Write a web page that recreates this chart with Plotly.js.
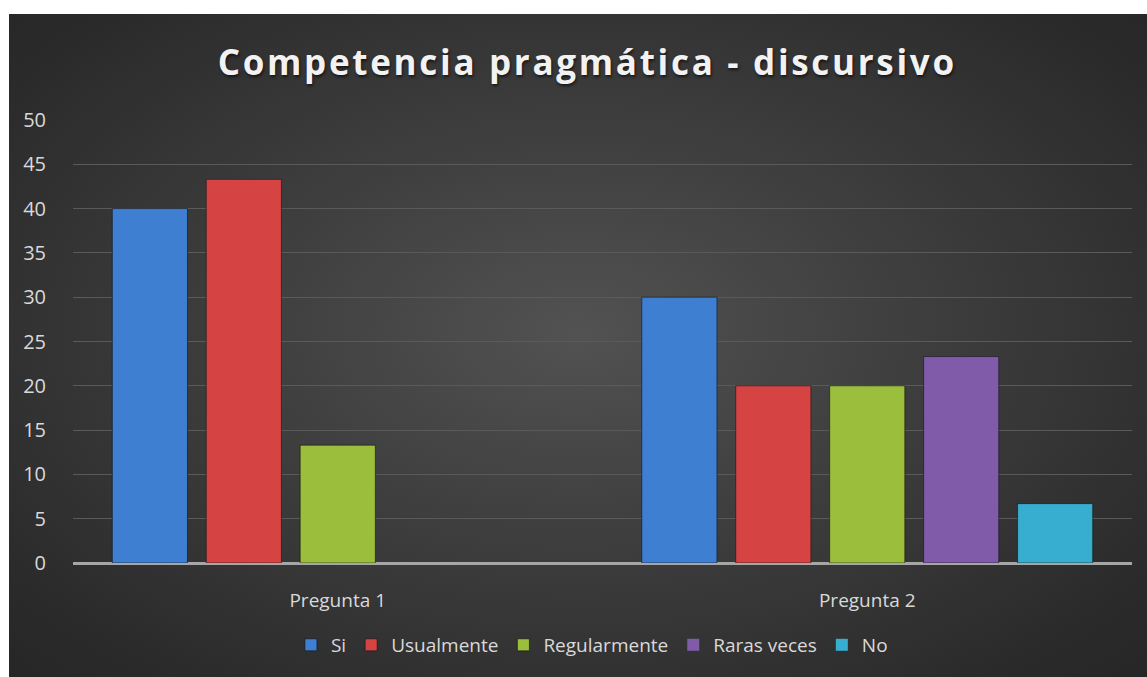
<!DOCTYPE html>
<html>
<head>
<meta charset="utf-8">
<script src="https://cdn.plot.ly/plotly-3.0.1.min.js"></script>
<style>
  html, body { margin: 0; padding: 0; background: #ffffff; }
  #wrap { position: absolute; left: 0; top: 0; width: 1147px; height: 677px; background: #ffffff; }
  #bg { position: absolute; left: 9px; top: 14px; width: 1138px; height: 663px;
        background: radial-gradient(ellipse at 50% 48%, #525252 0%, #3f3f3f 40%, #2b2b2b 85%, #262626 100%); }
  #chart { position: absolute; left: 0; top: 0; width: 1147px; height: 677px; }
  .gtitle { letter-spacing: 2.7px; text-shadow: 1px 2px 3px rgba(0,0,0,0.6); }
</style>
</head>
<body>
<div id="wrap"><div id="bg"></div><div id="chart"></div></div>
<script>
const categories = ["Pregunta 1", "Pregunta 2"];
const seriesNames = ["Si", "Usualmente", "Regularmente", "Raras veces", "No"];
const si = [40, 30];
const usualmente = [43.3, 20];
const regularmente = [13.3, 20];
const rarasVeces = [0, 23.3];
const no = [0, 6.7];
const yTicks = [0, 5, 10, 15, 20, 25, 30, 35, 40, 45, 50];

const seriesValues = [si, usualmente, regularmente, rarasVeces, no];
const colors = ["#3f7fd2", "#d64343", "#9bbf3d", "#7f5ba9", "#37aed0"];

const traces = seriesValues.map((vals, i) => ({
  type: "bar",
  name: seriesNames[i],
  x: categories,
  y: vals,
  marker: {
    color: colors[i],
    line: { color: "rgba(20,20,20,0.6)", width: vals.map(v => (v > 0 ? 1 : 0)) }
  },
  hoverinfo: "x+y+name"
}));

const layout = {
  width: 1147,
  height: 677,
  paper_bgcolor: "rgba(0,0,0,0)",
  plot_bgcolor: "rgba(0,0,0,0)",
  margin: { l: 73, r: 15, t: 120, b: 114 },
  font: { family: "Open Sans, sans-serif", color: "#d9d9d9" },
  title: {
    text: "<b>Competencia pragmática - discursivo</b>",
    font: { family: "Open Sans, sans-serif", size: 35, color: "#f2f2f2" },
    x: 0.512, xanchor: "center",
    y: 0.908, yanchor: "middle"
  },
  barmode: "group",
  bargap: 0.113,
  bargroupgap: 0.2,
  xaxis: {
    type: "category",
    showgrid: false,
    showline: false,
    zeroline: false,
    ticks: "outside",
    ticklen: 20,
    tickcolor: "rgba(0,0,0,0)",
    tickfont: { size: 19, color: "#d9d9d9" }
  },
  yaxis: {
    range: [0, 50],
    tickvals: yTicks,
    ticktext: yTicks.map(String),
    showgrid: true,
    gridcolor: "#5a5a5a",
    gridwidth: 1,
    zeroline: true,
    zerolinecolor: "#a6a6a6",
    zerolinewidth: 2.5,
    showline: false,
    ticks: "outside",
    ticklen: 22,
    tickcolor: "rgba(0,0,0,0)",
    tickfont: { size: 20, color: "#d9d9d9" },
    fixedrange: true
  },
  showlegend: true,
  legend: {
    orientation: "h",
    x: 0.49, xanchor: "center",
    y: -0.185, yanchor: "middle",
    font: { size: 19, color: "#d9d9d9" },
    bgcolor: "rgba(0,0,0,0)",
    itemwidth: 30,
    traceorder: "normal"
  }
};

Plotly.newPlot("chart", traces, layout, { displayModeBar: false });
</script>
</body>
</html>
